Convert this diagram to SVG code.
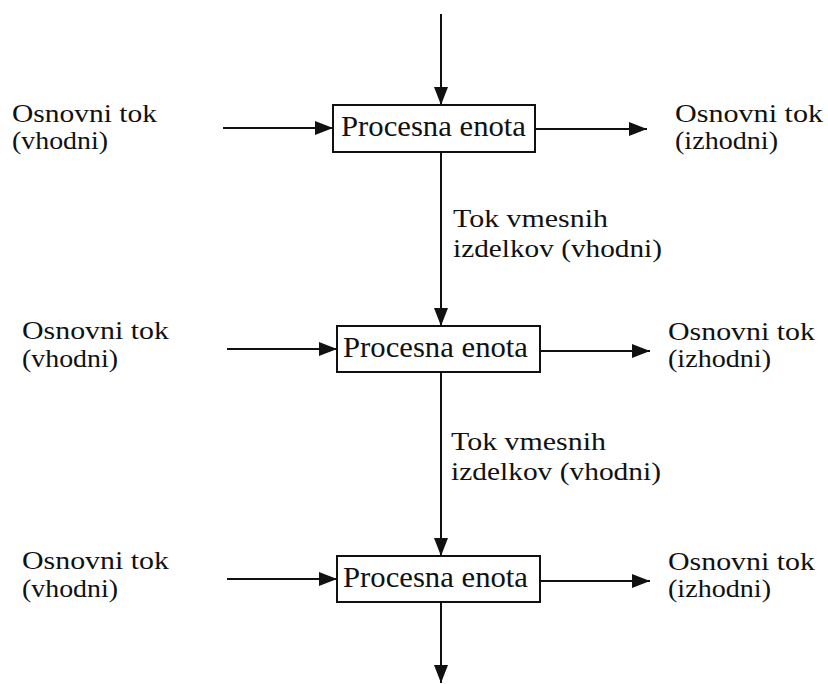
<svg xmlns="http://www.w3.org/2000/svg" width="828" height="684" viewBox="0 0 828 684" font-family="'Liberation Serif', 'DejaVu Serif', serif">
<style>
text{font-family:'Liberation Serif','DejaVu Serif',serif;font-size:26px;fill:#111}
.box{fill:#fff;stroke:#111;stroke-width:2}
.c{stroke:#111;stroke-width:2;fill:none;marker-end:url(#ah)}
.bt{font-size:29px}
</style>
<defs>
<marker id="ah" viewBox="0 0 18 14" refX="18" refY="7" markerWidth="18" markerHeight="14" markerUnits="userSpaceOnUse" orient="auto">
<path d="M0,0 L18,7 L0,14 Z" fill="#111"/>
</marker>
</defs>
<rect width="828" height="684" fill="#fff"/>
<g id="connectors">
<line class="c" x1="441" y1="14" x2="441" y2="105"/>
<line class="c" x1="223" y1="128" x2="333" y2="128"/>
<line class="c" x1="535" y1="129" x2="647" y2="129"/>
<line class="c" x1="441" y1="152" x2="441" y2="326"/>
<line class="c" x1="227" y1="349" x2="337" y2="349"/>
<line class="c" x1="540" y1="351" x2="650" y2="351"/>
<line class="c" x1="441" y1="372" x2="441" y2="556"/>
<line class="c" x1="227" y1="579" x2="337" y2="579"/>
<line class="c" x1="540" y1="581" x2="650" y2="581"/>
<line class="c" x1="441" y1="602" x2="441" y2="683"/>
</g>
<g id="unit1">
<rect class="box" x="333" y="105" width="202" height="47"/>
<text class="bt" x="341" y="136" textLength="185" lengthAdjust="spacingAndGlyphs">Procesna enota</text>
</g>
<g id="unit2">
<rect class="box" x="337" y="326" width="203" height="46"/>
<text class="bt" x="343" y="357" textLength="185" lengthAdjust="spacingAndGlyphs">Procesna enota</text>
</g>
<g id="unit3">
<rect class="box" x="337" y="556" width="203" height="46"/>
<text class="bt" x="343" y="587" textLength="185" lengthAdjust="spacingAndGlyphs">Procesna enota</text>
</g>
<g id="in1">
<text x="12" y="122" textLength="145" lengthAdjust="spacingAndGlyphs">Osnovni tok</text>
<text x="12" y="149" textLength="96" lengthAdjust="spacingAndGlyphs">(vhodni)</text>
</g>
<g id="out1">
<text x="675" y="122" textLength="148" lengthAdjust="spacingAndGlyphs">Osnovni tok</text>
<text x="675" y="149" textLength="103" lengthAdjust="spacingAndGlyphs">(izhodni)</text>
</g>
<g id="mid1">
<text x="453" y="227" textLength="155" lengthAdjust="spacingAndGlyphs">Tok vmesnih</text>
<text x="453" y="257" textLength="209" lengthAdjust="spacingAndGlyphs">izdelkov (vhodni)</text>
</g>
<g id="in2">
<text x="22" y="339" textLength="147" lengthAdjust="spacingAndGlyphs">Osnovni tok</text>
<text x="22" y="367" textLength="96" lengthAdjust="spacingAndGlyphs">(vhodni)</text>
</g>
<g id="out2">
<text x="668" y="340" textLength="147" lengthAdjust="spacingAndGlyphs">Osnovni tok</text>
<text x="668" y="367" textLength="103" lengthAdjust="spacingAndGlyphs">(izhodni)</text>
</g>
<g id="mid2">
<text x="451" y="450" textLength="155" lengthAdjust="spacingAndGlyphs">Tok vmesnih</text>
<text x="451" y="480" textLength="210" lengthAdjust="spacingAndGlyphs">izdelkov (vhodni)</text>
</g>
<g id="in3">
<text x="22" y="569" textLength="147" lengthAdjust="spacingAndGlyphs">Osnovni tok</text>
<text x="22" y="597" textLength="96" lengthAdjust="spacingAndGlyphs">(vhodni)</text>
</g>
<g id="out3">
<text x="668" y="570" textLength="147" lengthAdjust="spacingAndGlyphs">Osnovni tok</text>
<text x="668" y="597" textLength="103" lengthAdjust="spacingAndGlyphs">(izhodni)</text>
</g>
</svg>
